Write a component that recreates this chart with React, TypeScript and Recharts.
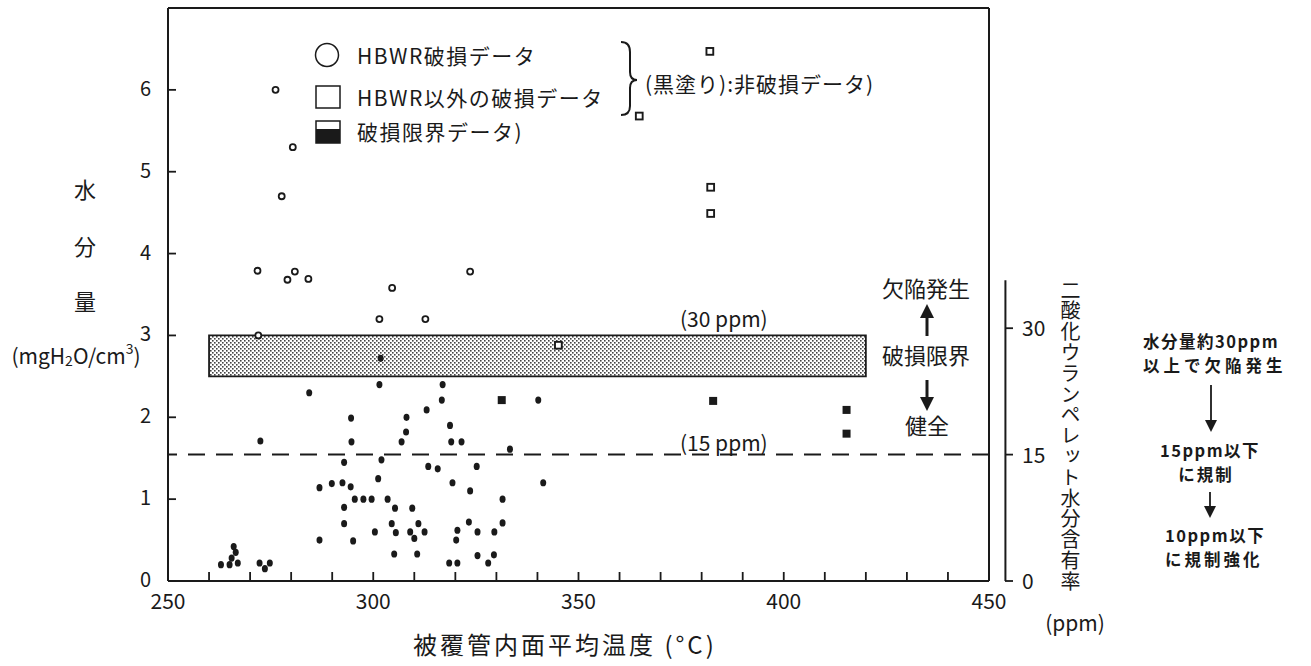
import React from 'react';
import { ScatterChart, Scatter, XAxis, YAxis, ReferenceLine, ReferenceArea, Legend } from 'recharts';

const FONT = '"Noto Sans CJK JP", "Noto Sans", sans-serif';
const INK = '#1a1a1a';

// axes
const xTicks = [250, 260, 270, 280, 290, 300, 310, 320, 330, 340, 350, 360, 370, 380, 390, 400, 410, 420, 430, 440, 450];
const xTickLabels = [250, 300, 350, 400, 450];
const waterTicks = [0, 1, 2, 3, 4, 5, 6];
const ppmTicks = [0, 15, 30];

const seriesNames = ['HBWR破損データ', 'HBWR以外の破損データ', '破損限界データ)', '非破損データ'];

// 被覆管内面平均温度 (°C) / 水分量 (mgH2O/cm3)
const hbwrFailTemp = [276.2, 280.4, 277.7, 271.8, 280.9, 279.1, 284.2, 323.6, 304.6, 301.5, 312.7, 272.0];
const hbwrFailWater = [6.0, 5.3, 4.7, 3.79, 3.78, 3.68, 3.69, 3.78, 3.58, 3.2, 3.2, 3.0];

const otherFailTemp = [382.0, 364.8, 382.2, 382.2, 345.1];
const otherFailWater = [6.47, 5.68, 4.81, 4.49, 2.88];

const limitTemp = [331.3, 382.8, 415.3, 415.3];
const limitWater = [2.21, 2.2, 2.09, 1.8];

const intactTemp = [
  301.8, 284.4, 301.5, 316.9, 316.7, 340.2, 313.0, 294.6, 308.1, 318.7,
  308.0, 272.5, 294.7, 306.9, 319.0, 321.5, 333.3, 292.9, 302.0, 313.4,
  315.7, 325.2, 301.2, 289.9, 286.9, 292.5, 294.5, 319.3, 341.4, 323.6,
  295.5, 297.6, 299.6, 303.5, 331.5, 292.9, 305.3, 309.5, 292.9, 304.5,
  311.0, 323.3, 331.5, 300.4, 305.5, 309.0, 312.5, 310.0, 320.5, 320.2,
  325.4, 329.5, 286.9, 295.1, 305.1, 310.7, 325.4, 329.4, 318.5, 320.5,
  328.0, 262.9, 266.0, 266.5, 265.5, 267.0, 265.0, 272.3, 274.8, 273.6,
];
const intactWater = [
  2.72, 2.3, 2.4, 2.4, 2.21, 2.21, 2.09, 1.99, 2.0, 1.9,
  1.82, 1.71, 1.7, 1.7, 1.7, 1.7, 1.61, 1.45, 1.48, 1.4,
  1.37, 1.4, 1.25, 1.19, 1.14, 1.2, 1.15, 1.2, 1.2, 1.1,
  1.0, 1.0, 1.0, 1.0, 1.0, 0.9, 0.89, 0.89, 0.7, 0.7,
  0.7, 0.72, 0.71, 0.6, 0.59, 0.6, 0.6, 0.52, 0.62, 0.5,
  0.6, 0.6, 0.5, 0.49, 0.33, 0.33, 0.31, 0.32, 0.22, 0.22,
  0.22, 0.2, 0.42, 0.35, 0.28, 0.22, 0.2, 0.22, 0.22, 0.15,
];

// 破損限界 band (mgH2O/cm3) and 15 ppm limit
const bandTemp = [260, 420];
const bandWater = [2.5, 3.0];
const ppmLimit = 15;

const toPoints = (xs: number[], ys: number[]) => xs.map((t, i) => ({ temp: t, water: ys[i] }));

const hbwrFail = toPoints(hbwrFailTemp, hbwrFailWater);
const otherFail = toPoints(otherFailTemp, otherFailWater);
const limitData = toPoints(limitTemp, limitWater);
const intact = toPoints(intactTemp, intactWater);

const openCircle = (p: any) => <circle cx={p.cx} cy={p.cy} r={3} fill="#fff" stroke={INK} strokeWidth={1.8} />;
const openSquare = (p: any) => (
  <rect x={p.cx - 3.4} y={p.cy - 3.4} width={6.8} height={6.8} fill="#fff" stroke={INK} strokeWidth={1.9} />
);
const filledSquare = (p: any) => <rect x={p.cx - 4} y={p.cy - 4} width={8} height={8} fill={INK} />;
const dot = (p: any) => <ellipse cx={p.cx} cy={p.cy} rx={3} ry={3.6} fill={INK} />;

function XTick({ x, y, payload }: any) {
  const v = payload.value;
  return (
    <g>
      <line x1={x} x2={x} y1={y} y2={y - 9} stroke={INK} strokeWidth={1.8} />
      {xTickLabels.includes(v) && (
        <text x={x} y={y + 28} textAnchor="middle" fontSize={21} fontFamily={FONT} fill={INK}>
          {v}
        </text>
      )}
    </g>
  );
}

function WaterTick({ x, y, payload }: any) {
  return (
    <g>
      <line x1={x} x2={x + 8} y1={y} y2={y} stroke={INK} strokeWidth={1.8} />
      <text x={x - 17} y={y + 6} textAnchor="end" fontSize={20} fontFamily={FONT} fill={INK}>
        {payload.value}
      </text>
    </g>
  );
}

function PpmTick({ x, y, payload }: any) {
  return (
    <g>
      <line x1={x + 16} x2={x + 24} y1={y} y2={y} stroke={INK} strokeWidth={1.8} />
      <text x={x + 33} y={y + 8} textAnchor="start" fontSize={21} fontFamily={FONT} fill={INK}>
        {payload.value}
      </text>
    </g>
  );
}

function LegendBox() {
  return (
    <svg width={620} height={120} fontFamily={FONT} fill={INK}>
      <circle cx={27} cy={25} r={11.5} fill="#fff" stroke={INK} strokeWidth={1.5} />
      <rect x={16} y={56} width={24} height={22} fill="#fff" stroke={INK} strokeWidth={1.5} />
      <rect x={16} y={91} width={24} height={22} fill="#fff" stroke={INK} strokeWidth={1.5} />
      <rect x={16} y={99} width={24} height={14} fill={INK} />
      <text x={57} y={25} fontSize={21} letterSpacing={1.5} dominantBaseline="central">{seriesNames[0]}</text>
      <text x={57} y={67} fontSize={21} letterSpacing={1.5} dominantBaseline="central">{seriesNames[1]}</text>
      <text x={57} y={101} fontSize={21} letterSpacing={1.5} dominantBaseline="central">{seriesNames[2]}</text>
      <path d="M321,12 Q330,12 330,22 L330,42 Q330,50 337,50 Q330,50 330,58 L330,76 Q330,85 321,85" fill="none" stroke={INK} strokeWidth={2} />
      <text x={345} y={53} fontSize={21} letterSpacing={1} dominantBaseline="central">(黒塗り):非破損データ)</text>
    </svg>
  );
}

function Overlay() {
  return (
    <svg
      width={1311}
      height={666}
      style={{ position: 'absolute', left: 0, top: 0, pointerEvents: 'none' }}
      fontFamily={FONT}
      fill={INK}
    >
      {/* left axis title */}
      <text x={85} y={188} fontSize={22} textAnchor="middle" dominantBaseline="central">水</text>
      <text x={85} y={245} fontSize={22} textAnchor="middle" dominantBaseline="central">分</text>
      <text x={85} y={300} fontSize={22} textAnchor="middle" dominantBaseline="central">量</text>
      <text x={76} y={355} fontSize={21} textAnchor="middle" dominantBaseline="central">
        (mgH<tspan fontSize={14} dy={5}>2</tspan><tspan dy={-5}>O/cm</tspan><tspan fontSize={14} dy={-7}>3</tspan><tspan dy={7}>)</tspan>
      </text>

      {/* x axis title */}
      <text x={413} y={643} fontSize={24} letterSpacing={3} dominantBaseline="central">被覆管内面平均温度 (°C)</text>

      {/* limit labels */}
      <text x={680} y={318} fontSize={21} dominantBaseline="central">(30 ppm)</text>
      <text x={680} y={442} fontSize={21} dominantBaseline="central">(15 ppm)</text>

      {/* in-plot annotation */}
      <text x={926} y={287} fontSize={22} textAnchor="middle" dominantBaseline="central">欠陥発生</text>
      <line x1={927} x2={927} y1={336} y2={314} stroke={INK} strokeWidth={3} />
      <polygon points="927,304 920,318 934,318" />
      <text x={926} y={354} fontSize={22} textAnchor="middle" dominantBaseline="central">破損限界</text>
      <line x1={927} x2={927} y1={380} y2={400} stroke={INK} strokeWidth={3} />
      <polygon points="927,411 920,397 934,397" />
      <text x={927} y={424} fontSize={22} textAnchor="middle" dominantBaseline="central">健全</text>

      {/* right axis unit */}
      <text x={1075} y={622} fontSize={21} textAnchor="middle" dominantBaseline="central">(ppm)</text>

      {/* regulation notes */}
      <g fontWeight={700} fontSize={16.5}>
        <text x={1143} y={341} letterSpacing={1.5} dominantBaseline="central">水分量約30ppm</text>
        <text x={1143} y={365} letterSpacing={4} dominantBaseline="central">以上で欠陥発生</text>
        <text x={1210} y={450} textAnchor="middle" letterSpacing={1.5} dominantBaseline="central">15ppm以下</text>
        <text x={1206} y={474} textAnchor="middle" letterSpacing={2} dominantBaseline="central">に規制</text>
        <text x={1165} y={535} letterSpacing={1.5} dominantBaseline="central">10ppm以下</text>
        <text x={1165} y={559} letterSpacing={3} dominantBaseline="central">に規制強化</text>
      </g>
      <line x1={1211} x2={1211} y1={385} y2={424} stroke={INK} strokeWidth={1.8} />
      <polygon points="1211,432 1205,420 1217,420" />
      <line x1={1210} x2={1210} y1={492} y2={510} stroke={INK} strokeWidth={1.8} />
      <polygon points="1210,518 1204,506 1216,506" />
    </svg>
  );
}

export default function App() {
  return (
    <div style={{ position: 'relative', width: 1311, height: 666, background: '#fff', fontFamily: FONT }}>
      <style>{'body{margin:0}'}</style>
      <ScatterChart width={1311} height={666} margin={{ top: 8, right: 262, bottom: 0, left: 0 }}>
        <defs>
          <pattern id="stipple" width="4" height="4" patternUnits="userSpaceOnUse">
            <rect width="4" height="4" fill="#fff" />
            <rect x="0" y="0" width="1.6" height="1.6" fill="#444" />
            <rect x="2" y="2" width="1.6" height="1.6" fill="#444" />
          </pattern>
        </defs>
        <XAxis
          type="number"
          dataKey="temp"
          domain={[250, 450]}
          ticks={xTicks}
          interval={0}
          tick={XTick}
          tickLine={false}
          tickSize={0}
          tickMargin={0}
          height={85}
          axisLine={{ stroke: INK, strokeWidth: 2 }}
          allowDataOverflow
        />
        <YAxis
          yAxisId="mg"
          type="number"
          dataKey="water"
          domain={[0, 7]}
          ticks={waterTicks}
          interval={0}
          width={168}
          tick={WaterTick}
          tickLine={false}
          tickSize={0}
          tickMargin={0}
          axisLine={{ stroke: INK, strokeWidth: 2 }}
          allowDataOverflow
        />
        <YAxis
          yAxisId="ppm"
          orientation="right"
          type="number"
          domain={[0, 68]}
          ticks={ppmTicks}
          interval={0}
          width={60}
          tick={PpmTick}
          tickLine={false}
          tickSize={0}
          tickMargin={0}
          axisLine={false}
          allowDataOverflow
        />
        <ReferenceArea
          yAxisId="mg"
          x1={bandTemp[0]}
          x2={bandTemp[1]}
          y1={bandWater[0]}
          y2={bandWater[1]}
          fill="url(#stipple)"
          fillOpacity={1}
          stroke={INK}
          strokeWidth={1.8}
        />
        <ReferenceLine yAxisId="ppm" y={ppmLimit} stroke={INK} strokeWidth={2} strokeDasharray="17 11" />
        <ReferenceLine yAxisId="mg" y={7} stroke={INK} strokeWidth={2} />
        <ReferenceLine yAxisId="mg" x={450} stroke={INK} strokeWidth={2} />
        <ReferenceLine
          yAxisId="ppm"
          segment={[{ x: 454, y: 0 }, { x: 454, y: 35.7 }]}
          ifOverflow="visible"
          stroke={INK}
          strokeWidth={2}
        />
        <Scatter yAxisId="mg" name={seriesNames[3]} data={intact} shape={dot} legendType="none" isAnimationActive={false} />
        <Scatter yAxisId="mg" name={seriesNames[0]} data={hbwrFail} shape={openCircle} isAnimationActive={false} />
        <Scatter yAxisId="mg" name={seriesNames[1]} data={otherFail} shape={openSquare} isAnimationActive={false} />
        <Scatter yAxisId="mg" name={seriesNames[2]} data={limitData} shape={filledSquare} isAnimationActive={false} />
        <Legend
          layout="vertical"
          align="center"
          verticalAlign="middle"
          content={() => <LegendBox />}
          wrapperStyle={{ left: 300, top: 30, width: 620, height: 120 }}
        />
      </ScatterChart>
      <Overlay />
      <div
        style={{
          position: 'absolute',
          left: 1060,
          top: 280,
          writingMode: 'vertical-rl',
          fontSize: 20,
          letterSpacing: 0.8,
          lineHeight: '20px',
          color: INK,
          whiteSpace: 'nowrap',
        }}
      >
        二酸化ウランペレット水分含有率
      </div>
    </div>
  );
}
